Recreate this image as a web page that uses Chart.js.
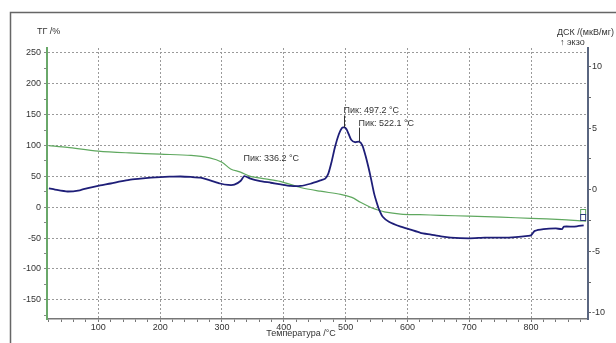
<!DOCTYPE html>
<html>
<head>
<meta charset="utf-8">
<script src="https://cdn.jsdelivr.net/npm/chart.js@4"></script>
<style>
  html, body { margin: 0; padding: 0; background: #fff; }
</style>
</head>
<body>
<canvas id="chart" width="616" height="343"></canvas>
<script>
// ТГ curve (left axis, %)
var tgTemps  = [20, 50, 100, 150, 200, 250, 280, 300, 314, 330, 346, 370, 394, 427, 459, 492, 510, 524, 540, 548, 565, 589, 620, 654, 700, 751, 800, 850, 880, 889];
var tgValues = [100, 97, 91, 88, 86, 84, 80, 73, 62, 57, 50, 46, 42, 32, 26, 21, 16, 8, 0, -3, -8, -11, -12, -13, -14.5, -16, -18, -20, -22, -22.5];

// ДСК curve (right axis, мкВ/мг)
var dscTemps  = [20, 30, 50, 70, 85, 103, 120, 136, 150, 168, 185, 200, 215, 233, 250, 265, 281, 297, 310, 320, 330, 336, 346, 360, 379, 395, 411, 427, 443, 459, 467, 472, 477, 483, 489, 494, 497, 501, 505, 509, 515, 522, 527, 532, 537, 541, 546, 550, 554, 560, 570, 589, 605, 621, 638, 654, 670, 700, 725, 751, 775, 795, 800, 806, 820, 840, 850, 853, 870, 885];
var dscValues = [0.1, 0.0, -0.15, -0.05, 0.15, 0.35, 0.5, 0.67, 0.8, 0.89, 0.97, 1.02, 1.05, 1.07, 1.03, 0.97, 0.75, 0.5, 0.38, 0.4, 0.7, 1.1, 0.9, 0.72, 0.56, 0.42, 0.3, 0.3, 0.48, 0.75, 0.9, 1.3, 2.2, 3.5, 4.5, 5.0, 5.05, 4.95, 4.5, 4.05, 3.85, 3.9, 3.6, 2.8, 1.8, 0.9, -0.3, -1.0, -1.6, -2.2, -2.6, -3.0, -3.25, -3.5, -3.65, -3.8, -3.9, -3.95, -3.9, -3.9, -3.85, -3.75, -3.7, -3.35, -3.2, -3.15, -3.2, -3.0, -3.0, -2.9];

// tick labels
var xTickLabels   = [100, 200, 300, 400, 500, 600, 700, 800];
var tgTickLabels  = [-150, -100, -50, 0, 50, 100, 150, 200, 250];
var dscTickLabels = [-10, -5, 0, 5, 10];

// peaks
var peakTemps  = [336.2, 497.2, 522.1];
var peakLabels = ['Пик: 336.2 °C', 'Пик: 497.2 °C', 'Пик: 522.1 °C'];

var FONT = "'Liberation Sans', Arial, sans-serif";
var TEXT = '#333';

function toPoints(xs, ys) {
    return xs.map(function (x, i) { return { x: x, y: ys[i] }; });
}

function nearestDsc(t) {
    var best = 0;
    for (var i = 1; i < dscTemps.length; i++) {
        if (Math.abs(dscTemps[i] - t) < Math.abs(dscTemps[best] - t)) best = i;
    }
    return dscValues[best];
}

// frame, axis titles, peak labels
var decor = {
    id: 'decor',
    beforeDraw: function (chart) {
        var ctx = chart.ctx;
        ctx.save();
        ctx.fillStyle = '#fff';
        ctx.fillRect(0, 0, chart.width, chart.height);
        ctx.strokeStyle = '#666';
        ctx.lineWidth = 1.5;
        ctx.beginPath();
        ctx.moveTo(10.5, chart.height);
        ctx.lineTo(10.5, 12.5);
        ctx.lineTo(chart.width, 12.5);
        ctx.stroke();
        ctx.restore();
    },
    afterDatasetsDraw: function (chart) {
        var ctx = chart.ctx;
        var xs = chart.scales.x, yd = chart.scales.dsc;
        ctx.save();
        ctx.font = '9px ' + FONT;
        ctx.fillStyle = TEXT;
        ctx.textBaseline = 'middle';
        ctx.textAlign = 'left';

        // axis titles
        ctx.fillText('ТГ /%', 37, 32);
        ctx.fillText('ДСК /(мкВ/мг)', 557, 33);
        ctx.fillText('↑ экзо', 560, 43);
        ctx.textAlign = 'center';
        ctx.fillText('Температура /°C', 301, 334);

        // peak labels
        var leaders = [0, 12, 14];
        var textDy = [-18, -17, -18];
        ctx.textAlign = 'left';
        ctx.strokeStyle = '#333';
        ctx.lineWidth = 1;
        peakTemps.forEach(function (t, i) {
            var px = Math.round(xs.getPixelForValue(t)) + 0.5;
            var py = yd.getPixelForValue(nearestDsc(t));
            if (leaders[i] > 0) {
                ctx.beginPath();
                ctx.moveTo(px, py);
                ctx.lineTo(px, py - leaders[i]);
                ctx.stroke();
            }
            ctx.fillText(peakLabels[i], px - 1, py + textDy[i]);
        });

        // curve markers at the end
        var ex = xs.getPixelForValue(tgTemps[tgTemps.length - 1]);
        ctx.lineWidth = 1;
        ctx.strokeStyle = '#5fa85f';
        ctx.strokeRect(ex - 5.5, 209.5, 5, 5);
        ctx.strokeStyle = '#2a3a7a';
        ctx.strokeRect(ex - 5.5, 214.5, 5, 6);
        ctx.restore();
    }
};

var ctx = document.getElementById('chart').getContext('2d');
var chart = new Chart(ctx, {
    type: 'line',
    data: {
        datasets: [{
            label: 'ДСК',
            data: toPoints(dscTemps, dscValues),
            yAxisID: 'dsc',
            borderColor: '#1e1e78',
            borderWidth: 1.8,
            pointRadius: 0,
            tension: 0.2
        }, {
            label: 'ТГ',
            data: toPoints(tgTemps, tgValues),
            yAxisID: 'tg',
            borderColor: '#5fa85f',
            borderWidth: 1.2,
            pointRadius: 0,
            tension: 0.3
        }]
    },
    options: {
        responsive: false,
        animation: false,
        devicePixelRatio: 1,
        layout: { padding: { top: 48, left: 0, right: 0, bottom: 0 } },
        plugins: {
            legend: { display: false },
            tooltip: { enabled: false }
        },
        scales: {
            x: {
                type: 'linear',
                min: 17,
                max: 892,
                afterFit: function (s) { s.height = 24; },
                afterBuildTicks: function (s) {
                    var t = [];
                    for (var v = 20; v <= 880; v += 20) t.push({ value: v });
                    s.ticks = t;
                },
                ticks: {
                    autoSkip: false,
                    maxRotation: 0,
                    padding: 0,
                    color: TEXT,
                    font: { size: 9, family: FONT },
                    callback: function (v) { return xTickLabels.indexOf(v) >= 0 ? String(v) : ''; }
                },
                grid: {
                    color: function (c) { return c.tick && xTickLabels.indexOf(c.tick.value) >= 0 ? '#9a9a9a' : 'rgba(0,0,0,0)'; },
                    tickColor: '#777',
                    tickLength: 3,
                    lineWidth: 1
                },
                border: { color: '#777', width: 1.5, dash: [2, 2] }
            },
            tg: {
                type: 'linear',
                position: 'left',
                min: -181,
                max: 258,
                afterFit: function (s) { s.width = 47; },
                afterBuildTicks: function (s) {
                    var t = [];
                    for (var v = -175; v <= 250; v += 25) t.push({ value: v });
                    s.ticks = t;
                },
                ticks: {
                    padding: 3,
                    color: TEXT,
                    font: { size: 9, family: FONT },
                    callback: function (v) { return tgTickLabels.indexOf(v) >= 0 ? String(v) : ''; }
                },
                grid: {
                    color: function (c) { return c.tick && tgTickLabels.indexOf(c.tick.value) >= 0 ? '#9a9a9a' : 'rgba(0,0,0,0)'; },
                    tickColor: '#888',
                    tickLength: 3,
                    lineWidth: 1
                },
                border: { color: '#6aa86a', width: 2, dash: [2, 2] }
            },
            dsc: {
                type: 'linear',
                position: 'right',
                min: -10.5,
                max: 11.5,
                afterFit: function (s) { s.width = 28; },
                afterBuildTicks: function (s) {
                    var t = [];
                    for (var v = -10; v <= 10; v += 2.5) t.push({ value: v });
                    s.ticks = t;
                },
                ticks: {
                    padding: 1,
                    color: TEXT,
                    font: { size: 9, family: FONT },
                    callback: function (v) { return dscTickLabels.indexOf(v) >= 0 ? String(v) : ''; }
                },
                grid: {
                    drawOnChartArea: false,
                    tickColor: '#666',
                    tickLength: 3
                },
                border: { color: '#5a6680', width: 2 }
            }
        }
    },
    plugins: [decor]
});
</script>
</body>
</html>
